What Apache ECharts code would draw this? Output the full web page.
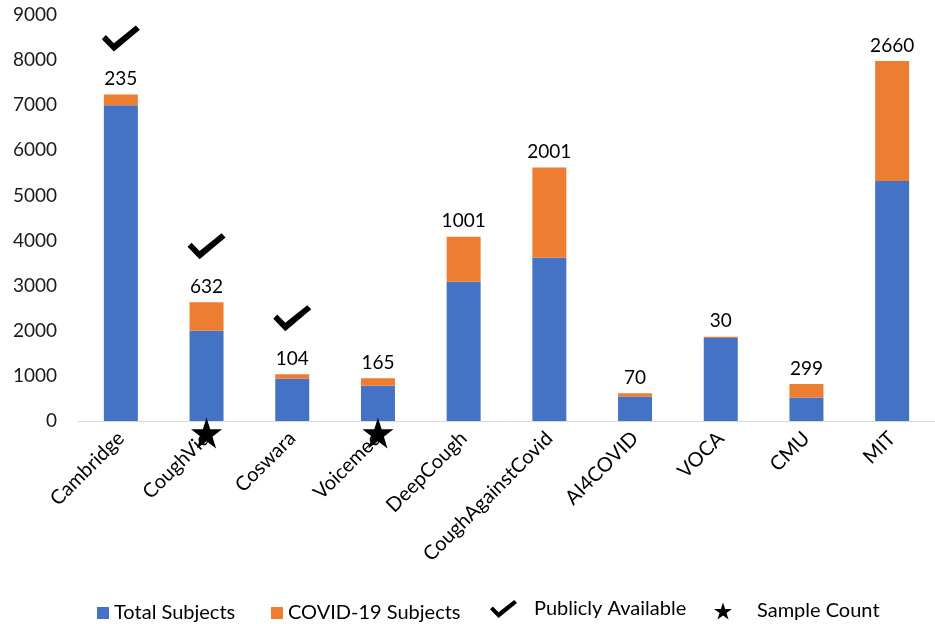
<!DOCTYPE html>
<html>
<head>
<meta charset="utf-8">
<script src="https://cdn.jsdelivr.net/npm/echarts@6/dist/echarts.min.js"></script>
<style>html,body{margin:0;padding:0;background:#fff}#c{width:935px;height:624px}</style>
</head>
<body>
<div id="c"></div>
<script>
const categories = ['Cambridge','CoughVid','Coswara','Voicemed','DeepCough','CoughAgainstCovid','AI4COVID','VOCA','CMU','MIT'];
const totalSubjects = [7000, 2000, 935, 780, 3085, 3620, 545, 1840, 520, 5320];
const covidSubjects = [235, 632, 104, 165, 1001, 2001, 70, 30, 299, 2660];
const publiclyAvailable = [1, 1, 1, 0, 0, 0, 0, 0, 0, 0];
const sampleCount = [0, 1, 0, 1, 0, 0, 0, 0, 0, 0];
const yTicks = { min: 0, max: 9000, interval: 1000 };

const CHECK = 'path://M0,14 L4,10 L12,18 L34,1 L38,5 L12,26 Z';
const STAR = 'path://M50,0 L61.23,34.55 L97.55,34.55 L68.16,55.9 L79.39,90.45 L50,69.1 L20.61,90.45 L31.84,55.9 L2.45,34.55 L38.77,34.55 Z';
const FONT = 'Lato';

const stackTop = totalSubjects.map((v, i) => v + covidSubjects[i]);
const checkData = stackTop.map((v, i) => publiclyAvailable[i] ? v : '-');
const starData = sampleCount.map(v => v ? 0 : '-');

const chart = echarts.init(document.getElementById('c'), null, { renderer: 'canvas' });
const legendText = { fontFamily: FONT, fontSize: 20, color: '#000' };
const legendBase = { orient: 'horizontal', padding: 0, top: 603, textStyle: legendText };
chart.setOption({
  animation: false,
  textStyle: { fontFamily: FONT },
  grid: { left: 78, right: -13, top: 15, bottom: 203, containLabel: false },
  xAxis: {
    type: 'category', data: categories,
    axisLine: { lineStyle: { color: '#D9D9D9', width: 1 } },
    axisTick: { show: false },
    axisLabel: { rotate: 45, margin: 14, fontFamily: FONT, fontSize: 20, color: '#000', interval: 0 }
  },
  yAxis: {
    type: 'value', min: yTicks.min, max: yTicks.max, interval: yTicks.interval,
    axisLine: { show: false }, axisTick: { show: false }, splitLine: { show: false },
    axisLabel: { margin: 21, fontFamily: FONT, fontSize: 19, color: '#1a1a1a', formatter: v => String(v) }
  },
  legend: [
    Object.assign({}, legendBase, { left: 97, data: [{ name: 'Total Subjects', icon: 'rect' }], itemWidth: 12, itemHeight: 12 }),
    Object.assign({}, legendBase, { left: 271, data: [{ name: 'COVID-19 Subjects', icon: 'rect' }], itemWidth: 12, itemHeight: 12 }),
    Object.assign({}, legendBase, { left: 490, top: 599, data: [{ name: 'Publicly Available', icon: CHECK }], itemWidth: 27, itemHeight: 19,
      textStyle: Object.assign({}, legendText, { padding: [0, 0, 0, 12] }) }),
    Object.assign({}, legendBase, { left: 714, top: 601, data: [{ name: 'Sample Count', icon: STAR }], itemWidth: 18, itemHeight: 18,
      textStyle: Object.assign({}, legendText, { padding: [0, 0, 0, 20] }) })
  ],
  series: [
    { name: 'Total Subjects', type: 'bar', stack: 's', data: totalSubjects, barWidth: 34,
      itemStyle: { color: '#4472C4' } },
    { name: 'COVID-19 Subjects', type: 'bar', stack: 's', data: covidSubjects, barWidth: 34,
      itemStyle: { color: '#ED7D31' },
      label: { show: true, position: 'top', distance: 6, fontFamily: FONT, fontSize: 19, color: '#000' } },
    { name: 'Publicly Available', type: 'scatter', data: checkData, symbol: CHECK, symbolSize: [38, 26],
      symbolOffset: [0, -56], itemStyle: { color: '#000', opacity: 1 }, z: 5 },
    { name: 'Sample Count', type: 'scatter', data: starData, symbol: STAR, symbolSize: 31,
      symbolOffset: [0, 12], itemStyle: { color: '#000', opacity: 1 }, z: 5 }
  ]
});
</script>
</body>
</html>
